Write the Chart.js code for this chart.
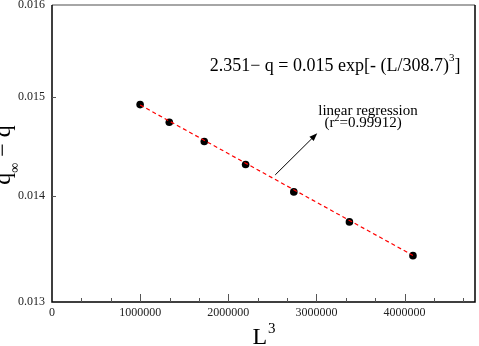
<!DOCTYPE html>
<html>
<head>
<meta charset="utf-8">
<script src="https://cdn.jsdelivr.net/npm/chart.js@4.4.1/dist/chart.umd.min.js"></script>
<style>
  html, body { margin: 0; padding: 0; background: #fff; }
  #wrap { width: 479px; height: 346px; }
</style>
</head>
<body>
<div id="wrap"><canvas id="fitChart"></canvas></div>
<script>
// L^3 for L = 100 ... 160
const sizesL3 = [1000000, 1331000, 1728000, 2197000, 2744000, 3375000, 4096000];
const qDiff = [0.014924, 0.014741, 0.014543, 0.014311, 0.01404, 0.013749, 0.013428];
// dashed regression line, end points
const fitX = [1000000, 4096000];
const fitY = [0.01492, 0.01343];
const xTicks = [0, 1000000, 2000000, 3000000, 4000000];
const yTicks = [0.013, 0.014, 0.015, 0.016];
const xMinorStep = 1000000 / 3;

const serif = "'Liberation Serif', 'Times New Roman', serif";

const decor = {
  id: "decor",
  afterDraw(chart) {
    const ctx = chart.ctx;
    const a = chart.chartArea;
    const xs = chart.scales.x;
    const ys = chart.scales.y;
    ctx.save();

    // frame
    ctx.lineWidth = 1.5;
    ctx.strokeStyle = "#888";
    ctx.beginPath();
    ctx.moveTo(a.left, a.top); ctx.lineTo(a.right, a.top);
    ctx.stroke();
    ctx.strokeStyle = "#000";
    ctx.beginPath();
    ctx.moveTo(a.right, a.top); ctx.lineTo(a.right, a.bottom);
    ctx.lineTo(a.left, a.bottom); ctx.lineTo(a.left, a.top);
    ctx.stroke();

    // inward ticks
    ctx.lineWidth = 1;
    ctx.strokeStyle = "#555";
    ctx.beginPath();
    for (let v = xMinorStep; v < xs.max; v += xMinorStep) {
      const px = Math.round(xs.getPixelForValue(v)) + 0.5;
      const major = Math.abs(v / 1000000 - Math.round(v / 1000000)) < 1e-6;
      ctx.moveTo(px, a.bottom);
      ctx.lineTo(px, a.bottom - (major ? 8 : 4));
    }
    yTicks.forEach(v => {
      const py = Math.round(ys.getPixelForValue(v)) + 0.5;
      if (py > a.top + 2 && py < a.bottom - 2) {
        ctx.moveTo(a.left, py);
        ctx.lineTo(a.left + 4, py);
      }
    });
    ctx.stroke();

    ctx.fillStyle = "#000";
    ctx.textBaseline = "alphabetic";

    // x title: L^3
    ctx.font = "24px " + serif;
    const wL = ctx.measureText("L").width;
    ctx.font = "15px " + serif;
    const w3 = ctx.measureText("3").width;
    let tx = 264 - (wL + w3 + 1) / 2;
    ctx.font = "24px " + serif;
    ctx.fillText("L", tx, 344);
    ctx.font = "15px " + serif;
    ctx.fillText("3", tx + wL + 1, 333);

    // y title: q_inf - q (rotated)
    ctx.save();
    ctx.translate(10, 155);
    ctx.rotate(-Math.PI / 2);
    ctx.font = "24px " + serif;
    const wq = ctx.measureText("q").width;
    const wRest = ctx.measureText(" \u2212 q").width;
    ctx.font = "14px " + serif;
    const wInf = ctx.measureText("\u221e").width;
    let u = -(wq + wInf + wRest) / 2;
    ctx.font = "24px " + serif;
    ctx.fillText("q", u, 0);
    ctx.font = "14px " + serif;
    ctx.fillText("\u221e", u + wq, 9);
    ctx.font = "24px " + serif;
    ctx.fillText(" \u2212 q", u + wq + wInf, 0);
    ctx.restore();

    // equation
    const eqX = xs.getPixelForValue(3212000);
    const eqY = ys.getPixelForValue(0.015344);
    const eqMain = "2.351\u2212 q = 0.015 exp[- (L/308.7)";
    ctx.font = "18px " + serif;
    const wMain = ctx.measureText(eqMain).width;
    const wBr = ctx.measureText("]").width;
    ctx.font = "11px " + serif;
    const wSup = ctx.measureText("3").width;
    let ex = eqX - (wMain + wSup + wBr) / 2;
    ctx.font = "18px " + serif;
    ctx.fillText(eqMain, ex, eqY + 6);
    ctx.font = "11px " + serif;
    ctx.fillText("3", ex + wMain, eqY - 4);
    ctx.font = "18px " + serif;
    ctx.fillText("]", ex + wMain + wSup, eqY + 6);

    // regression label
    ctx.font = "15px " + serif;
    ctx.textAlign = "center";
    ctx.fillText("linear regression", xs.getPixelForValue(3586000), ys.getPixelForValue(0.014868) + 5);
    const rx = xs.getPixelForValue(3530000);
    const ry = ys.getPixelForValue(0.014747) + 5;
    ctx.textAlign = "left";
    const p1 = "(r", p2 = "=0.99912)";
    const w1 = ctx.measureText(p1).width, w2 = ctx.measureText(p2).width;
    ctx.font = "10px " + serif;
    const wS = ctx.measureText("2").width;
    let rs = rx - (w1 + wS + w2) / 2;
    ctx.font = "15px " + serif;
    ctx.fillText(p1, rs, ry);
    ctx.font = "10px " + serif;
    ctx.fillText("2", rs + w1, ry - 6);
    ctx.font = "15px " + serif;
    ctx.fillText(p2, rs + w1 + wS, ry);

    // arrow
    const ax0 = xs.getPixelForValue(2533000), ay0 = ys.getPixelForValue(0.014208);
    const ax1 = xs.getPixelForValue(3010000), ay1 = ys.getPixelForValue(0.014628);
    const ang = Math.atan2(ay1 - ay0, ax1 - ax0);
    ctx.strokeStyle = "#000";
    ctx.lineWidth = 1;
    ctx.beginPath();
    ctx.moveTo(ax0, ay0);
    ctx.lineTo(ax1 - 6 * Math.cos(ang), ay1 - 6 * Math.sin(ang));
    ctx.stroke();
    ctx.beginPath();
    ctx.moveTo(ax1, ay1);
    ctx.lineTo(ax1 - 8 * Math.cos(ang) + 3 * Math.sin(ang), ay1 - 8 * Math.sin(ang) - 3 * Math.cos(ang));
    ctx.lineTo(ax1 - 8 * Math.cos(ang) - 3 * Math.sin(ang), ay1 - 8 * Math.sin(ang) + 3 * Math.cos(ang));
    ctx.closePath();
    ctx.fill();

    ctx.restore();
  }
};

const points = sizesL3.map((x, i) => ({ x: x, y: qDiff[i] }));
const fitLine = fitX.map((x, i) => ({ x: x, y: fitY[i] }));

new Chart(document.getElementById("fitChart"), {
  type: "scatter",
  data: {
    datasets: [
      {
        label: "fit",
        data: fitLine,
        showLine: true,
        borderColor: "#ff0000",
        borderWidth: 1.2,
        borderDash: [4, 3],
        pointRadius: 0,
        order: 0
      },
      {
        label: "data",
        data: points,
        pointRadius: 3.8,
        pointBackgroundColor: "#000",
        pointBorderWidth: 0,
        order: 1
      }
    ]
  },
  options: {
    responsive: true,
    maintainAspectRatio: false,
    animation: false,
    layout: { padding: { top: 5, right: -2, left: 0, bottom: 0 } },
    plugins: {
      legend: { display: false },
      tooltip: { enabled: false }
    },
    scales: {
      x: {
        type: "linear",
        min: 0,
        max: 4800000,
        grid: { display: false, drawTicks: false },
        border: { display: false },
        afterBuildTicks: s => { s.ticks = xTicks.map(v => ({ value: v })); },
        afterFit: s => { s.height = 44; s.paddingLeft = 0; s.paddingRight = 0; },
        ticks: {
          padding: 4,
          color: "#222",
          font: { family: serif, size: 12 },
          maxRotation: 0,
          callback: v => String(v)
        }
      },
      y: {
        type: "logarithmic",
        min: 0.013,
        max: 0.016,
        grid: { display: false, drawTicks: false },
        border: { display: false },
        afterBuildTicks: s => { s.ticks = yTicks.map(v => ({ value: v })); },
        afterFit: s => { s.width = 52; s.paddingTop = 0; s.paddingBottom = 0; },
        ticks: {
          padding: 7,
          color: "#222",
          font: { family: serif, size: 12 },
          callback: v => Number(v).toFixed(3)
        }
      }
    }
  },
  plugins: [decor]
});
</script>
</body>
</html>
